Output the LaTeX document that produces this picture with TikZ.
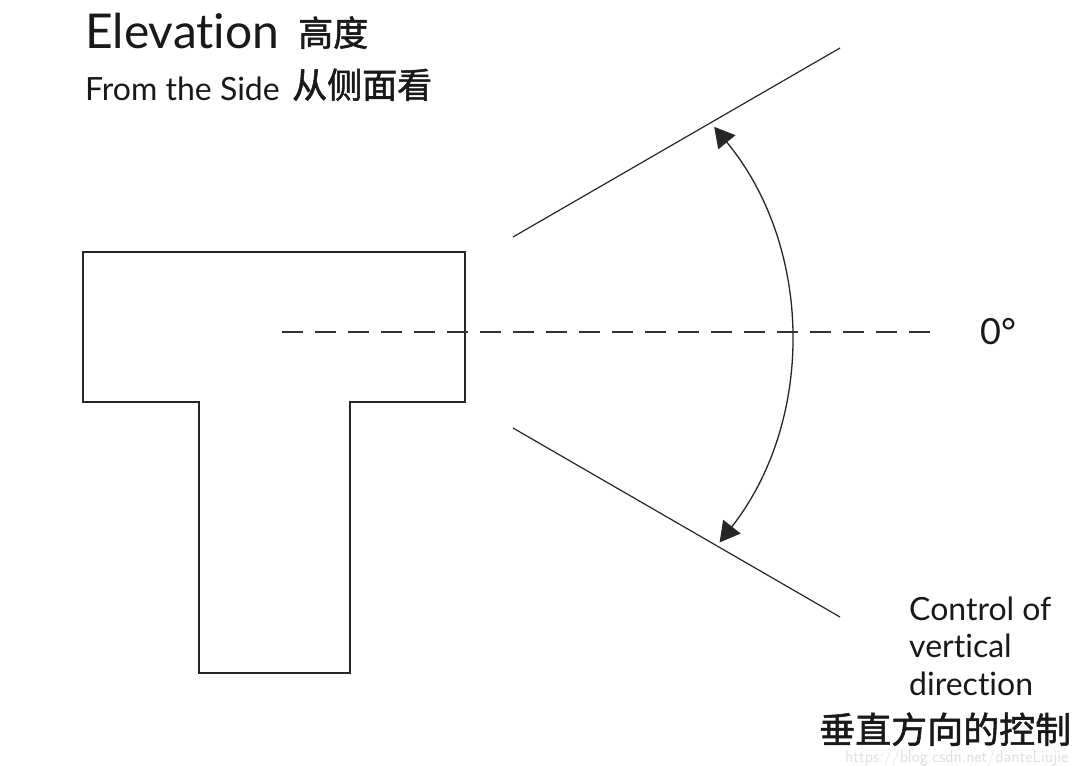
\documentclass[tikz,border=0pt]{standalone}
\usepackage{fontspec}
\setmainfont{Lato}[Ligatures={NoCommon,NoRare}]
\newfontfamily\cjk{Noto Sans CJK SC}[FakeBold=1.5]
\usetikzlibrary{arrows.meta}
\tikzset{
  px/.style={x=1pt,y=-1pt},
  shape line/.style={line width=1.2pt, black!85},
  axis line/.style={line width=1.2pt, black!80, dash pattern=on 21pt off 12pt},
  sweep/.style={line width=1.3pt, black!85, {Triangle[length=20pt,width=22pt]}-{Triangle[length=20pt,width=22pt]}},
  label/.style={inner sep=0pt, anchor=base west, text=black!90},
}
\begin{document}
\begin{tikzpicture}[px]
\useasboundingbox[fill=white] (0,0) rectangle (1080,766);
% T shape
\draw[shape line] (83,252) -- (465,252) -- (465,402) -- (350,402) -- (350,673)
  -- (199,673) -- (199,402) -- (83,402) -- cycle;
% axis
\coordinate (axA) at (282,332);
\coordinate (axB) at (935,332);
\draw[axis line] (axA) -- (axB);
% limit lines
\coordinate (upA) at (513,237);
\coordinate (upB) at (840,48);
\coordinate (loA) at (513,428);
\coordinate (loB) at (840,617);
\draw[shape line] (upA) -- (upB);
\draw[shape line] (loA) -- (loB);
% sweep arc, centre (458,338), radius 332
\coordinate (arcS) at ({458+332*cos(38)},{338+332*sin(38)});
\draw[sweep] (arcS) arc[start angle=-38, end angle=39.5, radius=332pt];
% texts
\node[label, font=\fontsize{48}{52}\selectfont] (t1) at (85,48) {Elevation};
\node[label, font=\fontsize{35}{40}\selectfont\cjk] (t2) at (298,46) {高度};
\node[label, font=\fontsize{32}{38}\selectfont] (t3) at (85,100) {From the Side};
\node[label, font=\fontsize{35}{40}\selectfont\cjk] (t4) at (292,98) {从侧面看};
\node[label, font=\fontsize{36}{40}\selectfont] (zero) at (980,344) {0°};
\node[label, font=\fontsize{32}{37.5}\selectfont, align=left] (ctl) at (909,695)
  {Control of\\vertical\\direction};
\node[label, font=\fontsize{36}{40}\selectfont\cjk] (cn) at (819,743) {垂直方向的控制};
\node[label, font=\fontsize{17}{20}\selectfont\sffamily, text=black!12] (wm) at (845,762) {https://blog.csdn.net/danteLiujie};
\end{tikzpicture}
\end{document}
